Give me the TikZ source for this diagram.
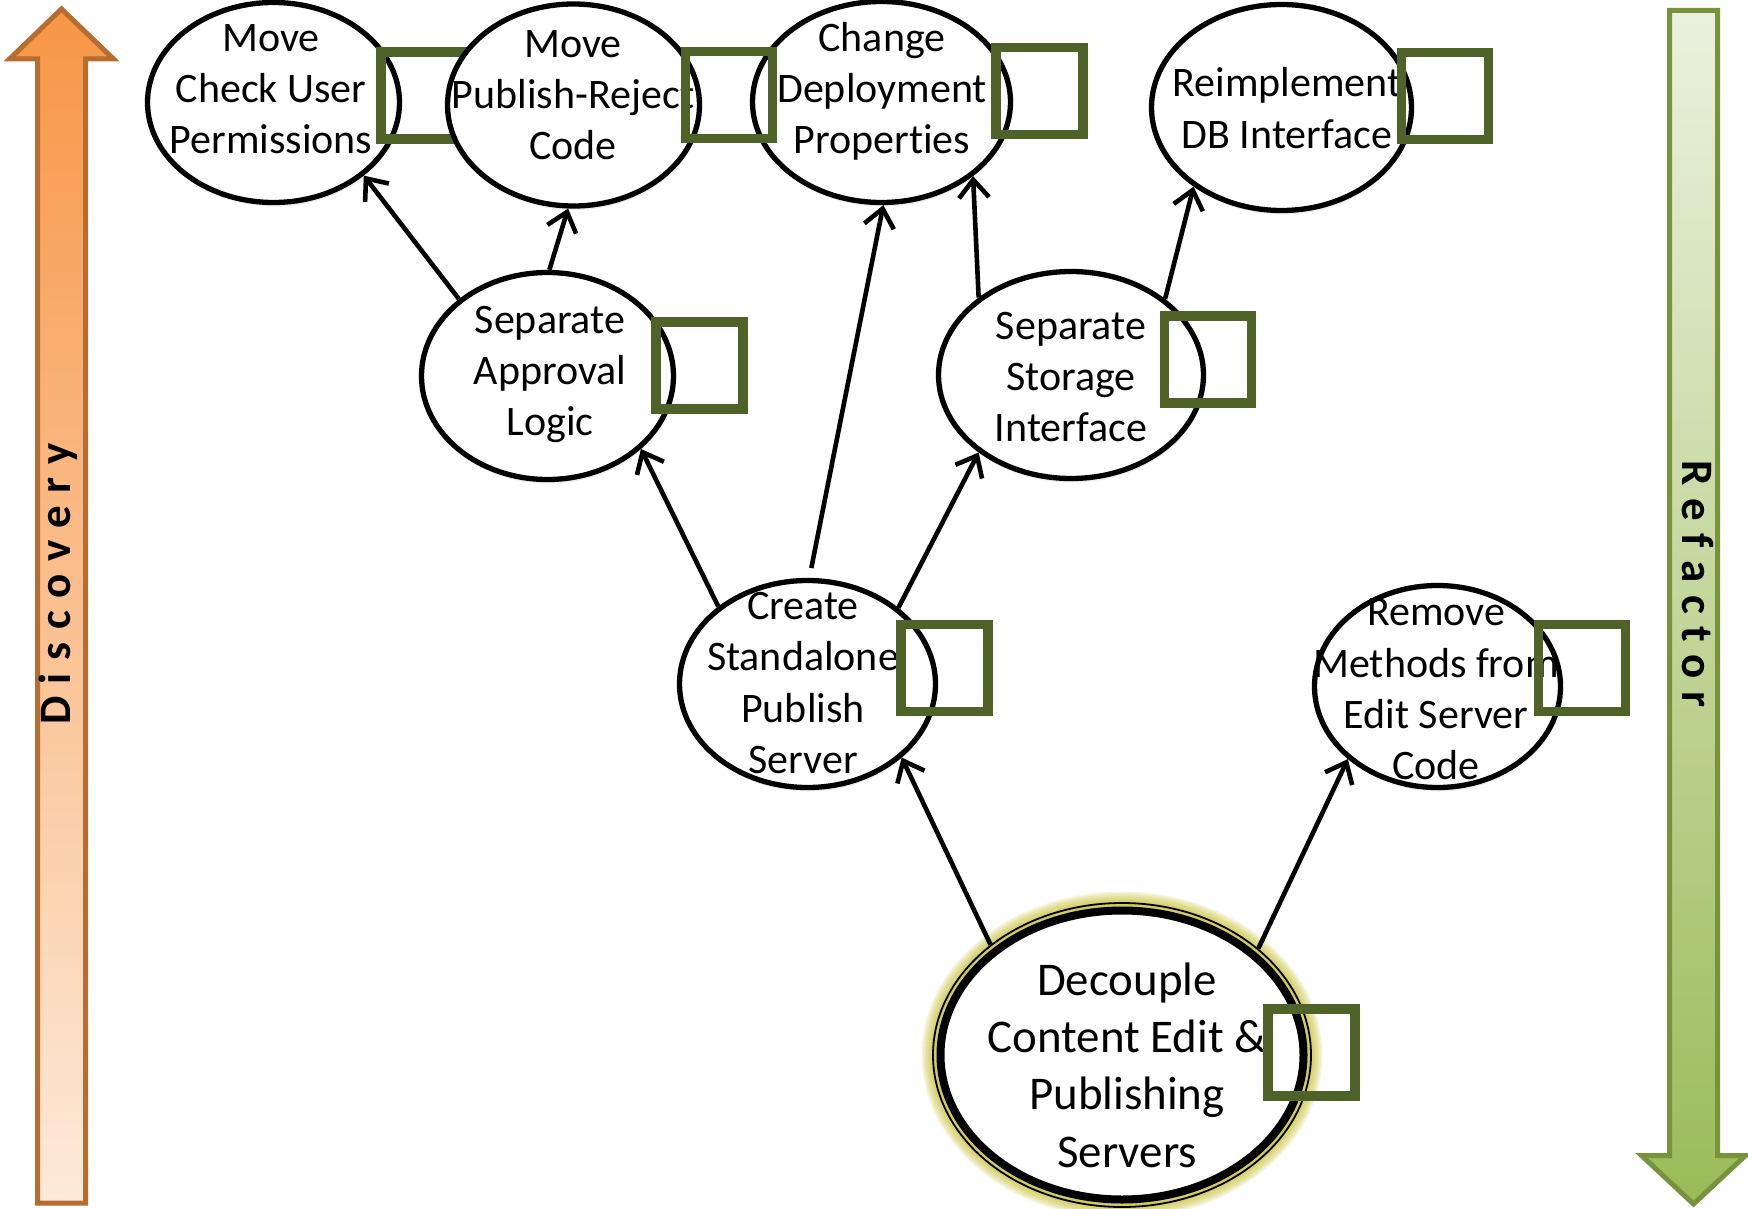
\documentclass[tikz,border=0pt]{standalone}
\usepackage{fontspec}
\setmainfont{Carlito}[Ligatures=NoCommon]
\usetikzlibrary{arrows.meta,shapes.geometric,shadows}

\definecolor{sqgreen}{HTML}{4F6228}
\definecolor{orline}{RGB}{183,108,50}
\definecolor{ortop}{HTML}{F79646}
\definecolor{orbot}{HTML}{FDEADA}
\definecolor{grline}{HTML}{77933C}
\definecolor{grtop}{HTML}{EBF1DE}
\definecolor{grbot}{HTML}{9BBB59}
\definecolor{glowc}{RGB}{196,188,40}

\tikzset{
  bubble/.style={ellipse, draw=black, line width=5.3pt, fill=white, inner sep=0pt,
    drop shadow={opacity=0.15, shadow xshift=1pt, shadow yshift=-4pt}},
  ntext/.style={align=center, inner sep=0pt, font=\fontsize{42pt}{51.3pt}\selectfont},
  bigtext/.style={align=center, inner sep=0pt, font=\fontsize{46.9pt}{57.3pt}\selectfont},
  tickbox/.style={rectangle, draw=sqgreen, line width=9.5pt, minimum size=87pt, inner sep=0pt},
  link/.style={line width=4.6pt, -{Straight Barb[length=18pt,width=30pt]}},
  sidetext/.style={inner sep=0pt, font=\fontsize{45pt}{50pt}\selectfont\bfseries},
}

\begin{document}
\begin{tikzpicture}[x=1pt,y=-1pt]
\useasboundingbox (0,0) rectangle (1748,1209);

% side arrows
\draw[line width=5pt, draw=orline, top color=ortop, bottom color=orbot, line join=miter]
  (37.5,1203) -- (37.5,59) -- (9.5,59) -- (61.5,9) -- (113.5,59) -- (85.5,59) -- (85.5,1203) -- cycle;
\draw[line width=5pt, draw=grline, top color=grtop, bottom color=grbot, line join=miter]
  (1669.5,10.5) -- (1669.5,1155.5) -- (1641.5,1155.5) -- (1693.5,1204) -- (1745.5,1155.5)
  -- (1717.5,1155.5) -- (1717.5,10.5) -- cycle;
\node[sidetext, rotate=90] (disc) at (58,584)
  {D\kern12.5pt i\kern12.5pt s\kern12.5pt c\kern12.5pt o\kern12.5pt v\kern12.5pt e\kern12.5pt r\kern12.5pt y};
\node[sidetext, rotate=-90] (refac) at (1698,584)
  {R\kern12.5pt e\kern12.5pt f\kern12.5pt a\kern12.5pt c\kern12.5pt t\kern12.5pt o\kern12.5pt r};

% top row
\node[bubble, minimum width=252pt, minimum height=200pt] (A) at (273.5,102.5) {};
\node[ntext] (tA) at (271,89) {Move\\Check User\\Permissions};
\node[tickbox] (sA) at (424.5,95.5) {};

\node[bubble, minimum width=252pt, minimum height=202pt] (B) at (573.5,105) {};
\node[ntext] (tB) at (573,95) {Move\\Publish-Reject\\Code};

\node[bubble, minimum width=258pt, minimum height=201pt] (C) at (881.5,102) {};
\node[ntext] (tC) at (882,91.5) {Change\\Deployment\\Properties};
\node[tickbox] (sB) at (729,95) {};
\node[tickbox] (sC) at (1039.5,91) {};

\node[bubble, minimum width=260pt, minimum height=206pt] (D) at (1281.5,107.5) {};
\node[ntext] (tD) at (1287,108) {Reimplement\\DB Interface};
\node[tickbox] (sD) at (1445,96) {};

% middle row
\node[bubble, minimum width=252pt, minimum height=207pt] (E) at (547.5,376) {};
\node[ntext] (tE) at (550,374.5) {Separate\\Approval\\Logic};
\node[tickbox] (sE) at (699.5,365.5) {};

\node[bubble, minimum width=265pt, minimum height=207pt] (F) at (1071,375) {};
\node[ntext] (tF) at (1071,377) {Separate\\Storage\\Interface};
\node[tickbox] (sF) at (1208,359.5) {};

% lower row
\node[bubble, minimum width=256pt, minimum height=207pt] (G) at (807.5,684) {};
\node[ntext] (tG) at (803,683) {Create\\Standalone\\Publish\\Server};
\node[tickbox] (sG) at (944.5,668) {};

\node[bubble, minimum width=246pt, minimum height=202pt] (H) at (1437.5,686.5) {};
\node[ntext] (tH) at (1436,689.5) {Remove\\Methods from\\Edit Server\\Code};
\node[tickbox] (sH) at (1582,668) {};

% root goal with glow and double rim
\foreach \k in {0,...,7}
  \fill[glowc, opacity=0.14] (1122,1055) ellipse [x radius={190pt+1.5pt*\k}, y radius={153pt+1.5pt*\k}];
\node[ellipse, draw=black, line width=1.8pt, fill=glowc!75, inner sep=0pt,
  minimum width=378pt, minimum height=304pt] (I) at (1122,1055) {};
\node[ellipse, draw=black, line width=8pt, fill=white, inner sep=0pt,
  minimum width=363pt, minimum height=289pt] (Icore) at (1122,1055) {};
\node[bigtext] (tI) at (1127,1065) {Decouple\\Content Edit \&\\Publishing\\Servers};
\node[tickbox] (sI) at (1311.5,1052.5) {};

% dependencies
\draw[link] (E.139) -- (A.-39.5);
\draw[link] (E.89) -- (B.-93.7);
\draw[link] (G.139.5) -- (E.-38.7);
\draw[link, shorten <=10pt] (G.89) -- (C.-89);
\draw[link] (G.40) -- (F.-140.8);
\draw[link] (F.140) -- (C.-39.8);
\draw[link] (F.39.3) -- (D.-138.6);
\draw[link] (I.140.7) -- (G.-38.4);
\draw[link] (I.38.4) -- (H.-141.5);
\end{tikzpicture}
\end{document}
